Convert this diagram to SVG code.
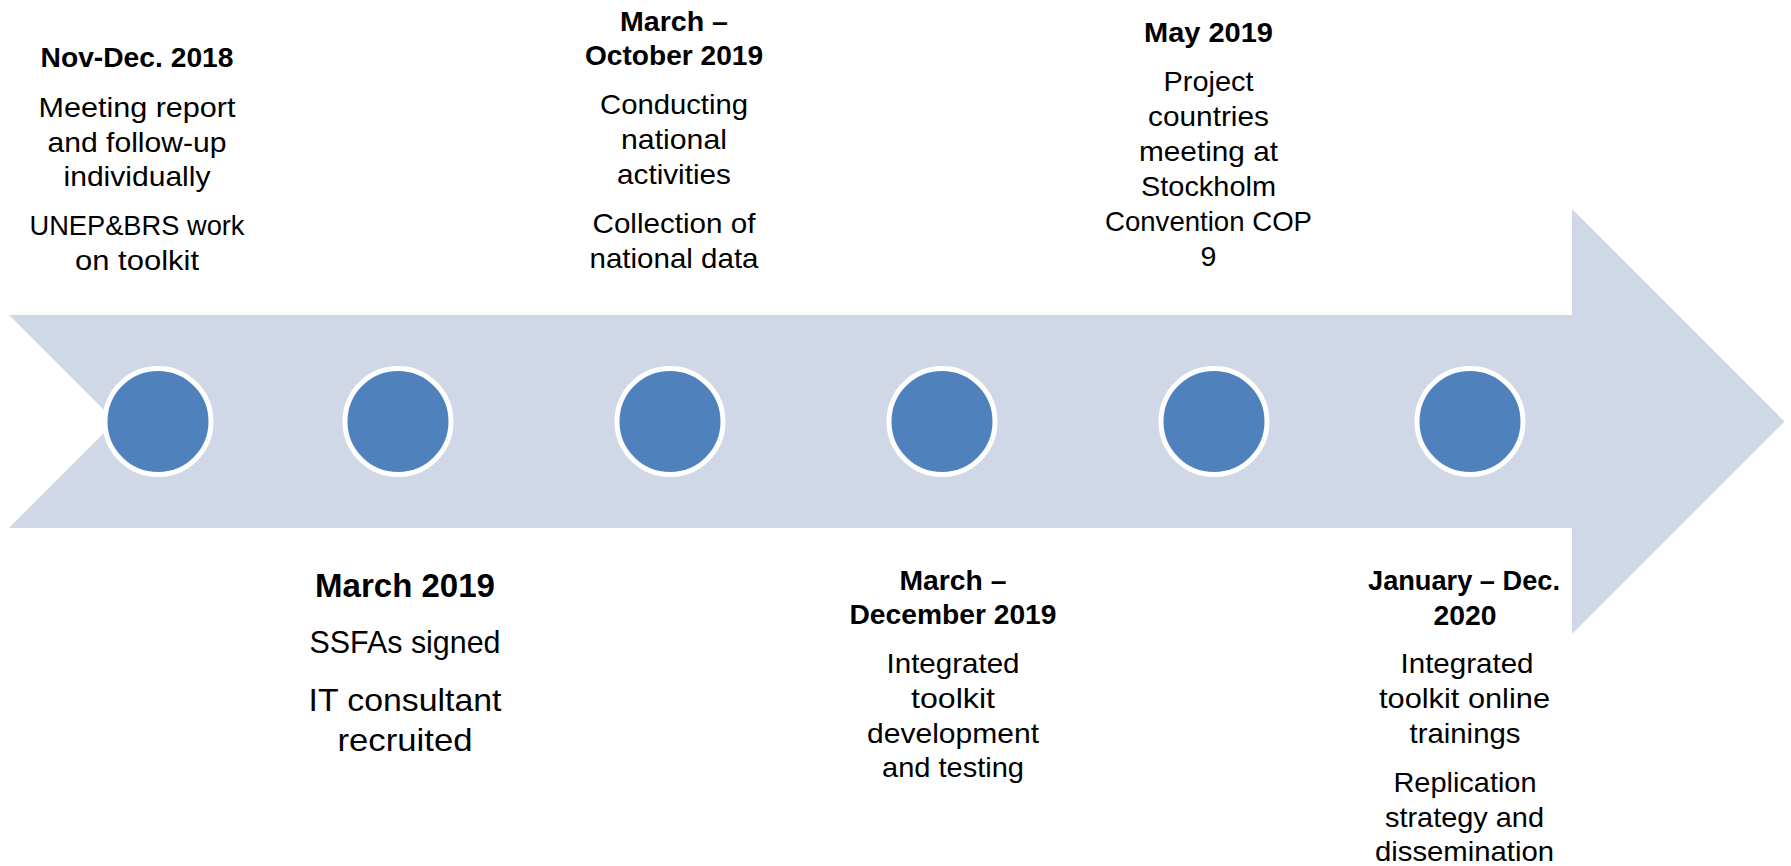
<svg xmlns="http://www.w3.org/2000/svg" width="1791" height="866" viewBox="0 0 1791 866">
<style>
  text { font-family: "Liberation Sans", Arial, sans-serif; fill: #000; text-anchor: middle; }
  .h { font-weight: bold; font-size: 28px; }
  .b { font-size: 28.5px; }
  .h4 { font-weight: bold; font-size: 33px; }
  .b4 { font-size: 32px; }
  .dot { fill: #4F81BD; stroke: #FFFFFF; stroke-width: 5; }
  .arrow { fill: #D0D8E8; }
</style>
<rect width="1791" height="866" fill="#FFFFFF"/>
<g id="connectors">
  <polygon id="timeline-arrow" class="arrow" points="9,315 1572,315 1572,209 1784.5,421.5 1572,634 1572,528 9,528 115.5,421.5"/>
</g>
<g id="m1">
  <circle class="dot" cx="158" cy="421.5" r="53"/>
  <text class="h" x="137" y="67" textLength="193" lengthAdjust="spacingAndGlyphs">Nov-Dec. 2018</text>
  <text class="b" x="137" y="117" textLength="197" lengthAdjust="spacingAndGlyphs">Meeting report</text>
  <text class="b" x="137" y="152" textLength="179" lengthAdjust="spacingAndGlyphs">and follow-up</text>
  <text class="b" x="137" y="186" textLength="147" lengthAdjust="spacingAndGlyphs">individually</text>
  <text class="b" x="137" y="235" textLength="215" lengthAdjust="spacingAndGlyphs">UNEP&amp;BRS work</text>
  <text class="b" x="137" y="270" textLength="124" lengthAdjust="spacingAndGlyphs">on toolkit</text>
</g>
<g id="m2">
  <circle class="dot" cx="398" cy="421.5" r="53"/>
  <text class="h4" x="405" y="597" textLength="180" lengthAdjust="spacingAndGlyphs">March 2019</text>
  <text class="b4" x="405" y="653" textLength="191" lengthAdjust="spacingAndGlyphs">SSFAs signed</text>
  <text class="b4" x="405" y="711" textLength="193" lengthAdjust="spacingAndGlyphs">IT consultant</text>
  <text class="b4" x="405" y="751" textLength="135" lengthAdjust="spacingAndGlyphs">recruited</text>
</g>
<g id="m3">
  <circle class="dot" cx="670" cy="421.5" r="53"/>
  <text class="h" x="674" y="31" textLength="108" lengthAdjust="spacingAndGlyphs">March –</text>
  <text class="h" x="674" y="65" textLength="178" lengthAdjust="spacingAndGlyphs">October 2019</text>
  <text class="b" x="674" y="114" textLength="148" lengthAdjust="spacingAndGlyphs">Conducting</text>
  <text class="b" x="674" y="149" textLength="106" lengthAdjust="spacingAndGlyphs">national</text>
  <text class="b" x="674" y="184" textLength="114" lengthAdjust="spacingAndGlyphs">activities</text>
  <text class="b" x="674" y="233" textLength="163" lengthAdjust="spacingAndGlyphs">Collection of</text>
  <text class="b" x="674" y="268" textLength="169" lengthAdjust="spacingAndGlyphs">national data</text>
</g>
<g id="m4">
  <circle class="dot" cx="942" cy="421.5" r="53"/>
  <text class="h" x="953" y="590" textLength="107" lengthAdjust="spacingAndGlyphs">March –</text>
  <text class="h" x="953" y="624" textLength="207" lengthAdjust="spacingAndGlyphs">December 2019</text>
  <text class="b" x="953" y="673" textLength="133" lengthAdjust="spacingAndGlyphs">Integrated</text>
  <text class="b" x="953" y="708" textLength="84" lengthAdjust="spacingAndGlyphs">toolkit</text>
  <text class="b" x="953" y="743" textLength="172" lengthAdjust="spacingAndGlyphs">development</text>
  <text class="b" x="953" y="777" textLength="142" lengthAdjust="spacingAndGlyphs">and testing</text>
</g>
<g id="m5">
  <circle class="dot" cx="1214" cy="421.5" r="53"/>
  <text class="h" x="1208.5" y="42" textLength="129" lengthAdjust="spacingAndGlyphs">May 2019</text>
  <text class="b" x="1208.5" y="91" textLength="90" lengthAdjust="spacingAndGlyphs">Project</text>
  <text class="b" x="1208.5" y="126" textLength="121" lengthAdjust="spacingAndGlyphs">countries</text>
  <text class="b" x="1208.5" y="161" textLength="139" lengthAdjust="spacingAndGlyphs">meeting at</text>
  <text class="b" x="1208.5" y="196" textLength="135" lengthAdjust="spacingAndGlyphs">Stockholm</text>
  <text class="b" x="1208.5" y="231" textLength="207" lengthAdjust="spacingAndGlyphs">Convention COP</text>
  <text class="b" x="1208.5" y="266">9</text>
</g>
<g id="m6">
  <circle class="dot" cx="1470" cy="421.5" r="53"/>
  <text class="h" x="1464" y="590" textLength="192" lengthAdjust="spacingAndGlyphs">January – Dec.</text>
  <text class="h" x="1465" y="625" textLength="63" lengthAdjust="spacingAndGlyphs">2020</text>
  <text class="b" x="1467" y="673" textLength="133" lengthAdjust="spacingAndGlyphs">Integrated</text>
  <text class="b" x="1464.5" y="708" textLength="171" lengthAdjust="spacingAndGlyphs">toolkit online</text>
  <text class="b" x="1465" y="743" textLength="111" lengthAdjust="spacingAndGlyphs">trainings</text>
  <text class="b" x="1465" y="792" textLength="143" lengthAdjust="spacingAndGlyphs">Replication</text>
  <text class="b" x="1464.5" y="827" textLength="159" lengthAdjust="spacingAndGlyphs">strategy and</text>
  <text class="b" x="1464.5" y="861" textLength="179" lengthAdjust="spacingAndGlyphs">dissemination</text>
</g>
</svg>
